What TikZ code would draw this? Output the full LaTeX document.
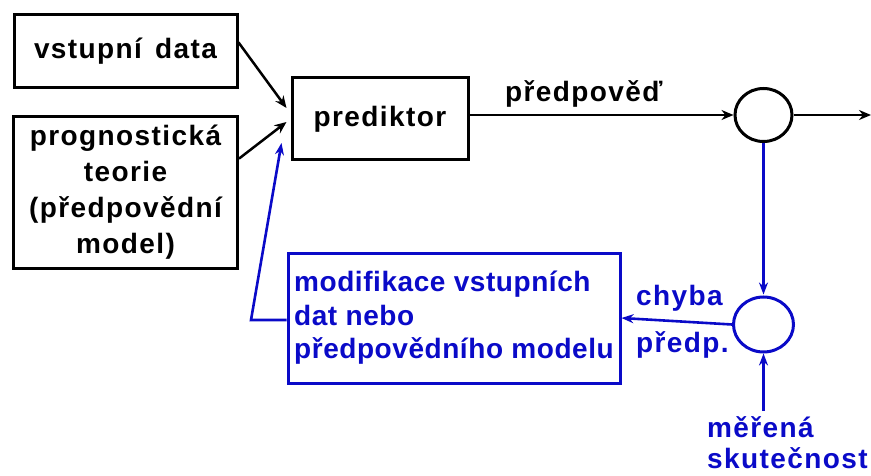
\documentclass[tikz,border=0pt]{standalone}
\usepackage{fontspec}
\setmainfont{Liberation Sans}[LetterSpace=5]
\newfontfamily\modfont{Liberation Sans}[LetterSpace=2]
\usetikzlibrary{arrows.meta,shapes.geometric,calc}
\definecolor{fbblue}{RGB}{10,10,200}
\tikzset{
  box/.style={draw=black,line width=3pt,rectangle,inner sep=0pt,align=center,
    font=\fontsize{28}{36}\selectfont\bfseries},
  bbox/.style={draw=fbblue,line width=3pt,rectangle,inner sep=0pt,align=left,text=fbblue,
    font=\modfont\fontsize{28}{33.5}\selectfont\bfseries},
  sumnode/.style={draw,ellipse,line width=3pt,inner sep=0pt},
  blk/.style={line width=2.5pt,-{Stealth[length=12pt,width=10pt]}},
  blu/.style={line width=2.6pt,draw=fbblue,-{Stealth[length=12pt,width=9pt]}},
  lbl/.style={inner sep=0pt,font=\fontsize{28}{33}\selectfont\bfseries},
  blbl/.style={inner sep=0pt,text=fbblue,font=\fontsize{28}{31}\selectfont\bfseries,align=left}
}
\begin{document}
\begin{tikzpicture}[x=1pt,y=-1pt]
\useasboundingbox (0,0) rectangle (871,476);
\node[box,minimum width=223pt,minimum height=73pt] (vd) at (125.5,51.5) {vstupní\hspace{4pt} data};
\node[box,minimum width=224pt,minimum height=151pt] (pt) at (125.5,192.5) {prognostická\\teorie\\(předpovědní\\model)};
\node[box,minimum width=176pt,minimum height=82pt] (pred) at (380,119) {prediktor};
\node[sumnode,minimum width=57pt,minimum height=53pt] (c1) at (763.5,115) {};
\node[sumnode,draw=fbblue,minimum width=60pt,minimum height=55pt] (c2) at (763.5,324.5) {};
\node[bbox,minimum width=332pt,minimum height=130pt] (mod) at (454,318) {modifikace vstupních\\dat nebo\\předpovědního modelu};
\coordinate (out) at (871,115);
\coordinate (pin1) at ($(pred.west)+(-4,-11)$);
\coordinate (pin2) at ($(pred.west)+(-4,3)$);
\coordinate (pin3) at ($(pred.west)+(-9,24)$);
\coordinate (corner) at (251,320);
\coordinate (meas) at (763.5,411);
\draw[blk] ($(vd.north east)!0.38!(vd.south east)$) -- (pin1);
\draw[blk] ($(pt.north east)!0.28!(pt.south east)$) -- (pin2);
\draw[blk] (pred.east |- c1.west) -- (c1.west);
\draw[blk] (c1.east) -- (out);
\draw[blu,shorten >=1pt] (c1.south) -- (c2.north);
\draw[blu] (c2.west) -- (mod.east);
\draw[blu] (meas) -- (c2.south);
\draw[blu] (mod.west |- corner) -- (corner) -- (pin3);
\node[lbl,anchor=base west] (pv) at (505,102) {předpověď};
\node[blbl,anchor=base west] (chyba) at (636,305) {chyba};
\node[blbl,anchor=base west] (predp) at (636,352) {předp.};
\node[blbl,anchor=base west] (mer) at (707,468) {měřená\\skutečnost};
\end{tikzpicture}
\end{document}
